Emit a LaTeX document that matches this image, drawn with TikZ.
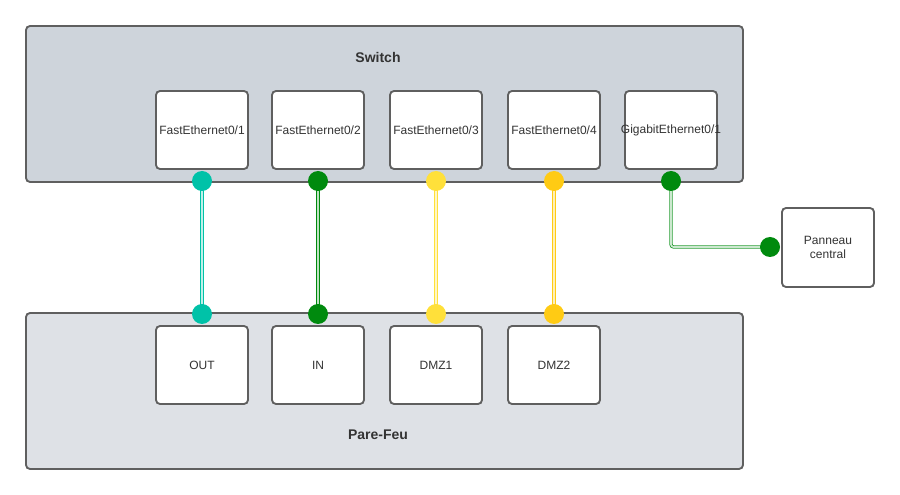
\documentclass[tikz,border=0pt]{standalone}
\usepackage{fontspec}
\setmainfont{Liberation Sans}
\usetikzlibrary{positioning}

\definecolor{edge}{HTML}{5F5F5F}
\definecolor{txt}{HTML}{333333}
\definecolor{swfill}{HTML}{CED4DB}
\definecolor{fwfill}{HTML}{DEE1E6}
\definecolor{cteal}{HTML}{00C2A8}
\definecolor{cgreen}{HTML}{008A0E}
\definecolor{cyellow}{HTML}{FFE03A}
\definecolor{cgold}{HTML}{FFCB14}

\begin{document}
\begin{tikzpicture}[
  x=0.75pt,y=-0.75pt,
  font=\fontsize{9}{11}\selectfont,
  text=txt,
  group/.style={draw=edge,line width=1.4pt,rounded corners=3pt,minimum width=537.75pt,minimum height=117pt,inner sep=0pt},
  port/.style={draw=edge,fill=white,line width=1.4pt,rounded corners=3pt,minimum width=69pt,minimum height=58.5pt,inner sep=1pt,align=center},
  title/.style={font=\fontsize{10.5}{12}\selectfont\bfseries},
  dot/.style={circle,minimum size=15pt,inner sep=0pt},
  wire/.style={line width=0.6pt,double distance=1.3pt}]

 % ---- background and groups ----
 \useasboundingbox (0,0) rectangle (900,495);
 \node[group,fill=swfill] (sw) at (384.5,104) {};
 \node[group,fill=fwfill] (fw) at (384.5,391) {};
 \node[title] (swname) at (378,57) {Switch};
 \node[title] (fwname) at (378,435) {Pare-Feu};

 % ---- switch ports ----
 \node[port] (fe1) at (202,130) {FastEthernet0/1};
 \node[port] (fe2) at (318,130) {FastEthernet0/2};
 \node[port] (fe3) at (436,130) {FastEthernet0/3};
 \node[port] (fe4) at (554,130) {FastEthernet0/4};
 \node[port] (ge1) at (671,130) {\makebox[60pt][c]{GigabitEthernet0/1}};

 % ---- firewall ports ----
 \node[port] (out)  at (202,365) {OUT};
 \node[port] (in)   at (318,365) {IN};
 \node[port] (dmz1) at (436,365) {DMZ1};
 \node[port] (dmz2) at (554,365) {DMZ2};

 \node[port,minimum height=59.25pt] (pc) at (828,247.5) {Panneau\\central};

 % ---- link ends ----
 \coordinate (t1) at (202,181);
 \coordinate (t2) at (318,181);
 \coordinate (t3) at (436,181);
 \coordinate (t4) at (554,181);
 \coordinate (t5) at (671,181);
 \coordinate (b1) at (202,314);
 \coordinate (b2) at (318,314);
 \coordinate (b3) at (436,314);
 \coordinate (b4) at (554,314);
 \coordinate (p5) at (770,247);

 % ---- links ----
 \draw[wire,draw=cteal,double=cteal!25] (t1) -- (b1);
 \draw[wire,draw=cgreen,double=cgreen!25] (t2) -- (b2);
 \draw[wire,draw=cyellow,double=cyellow!30] (t3) -- (b3);
 \draw[wire,draw=cgold,double=cgold!30] (t4) -- (b4);
 \draw[wire,draw=cgreen!85,double=cgreen!20,rounded corners=2pt] (t5) |- (p5);

 % ---- dots ----
 \foreach \p/\c in {t1/cteal,b1/cteal,t2/cgreen,b2/cgreen,t3/cyellow,b3/cyellow,t4/cgold,b4/cgold,t5/cgreen,p5/cgreen}
   \node[dot,fill=\c] at (\p) {};
\end{tikzpicture}
\end{document}
